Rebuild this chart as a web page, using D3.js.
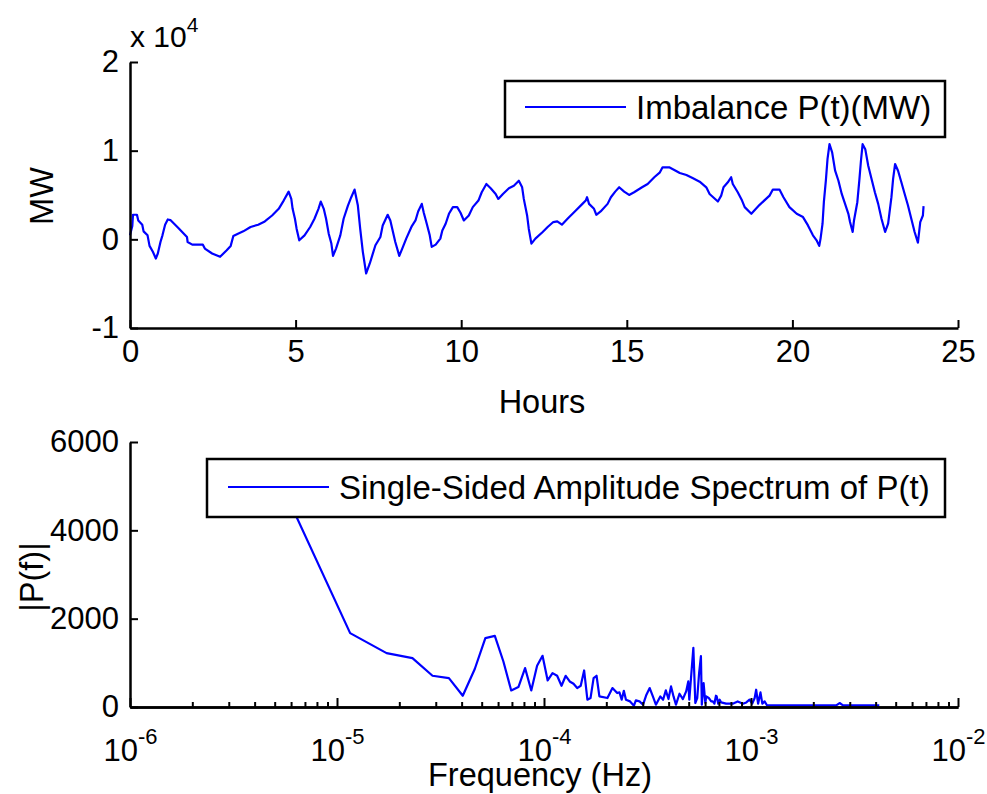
<!DOCTYPE html>
<html>
<head>
<meta charset="utf-8">
<script src="https://cdn.jsdelivr.net/npm/d3@7"></script>
<style>
  body { margin: 0; background: #fff; }
  svg text { font-family: "Liberation Sans", Arial, sans-serif; fill: #000; }
</style>
</head>
<body>
<div id="chart"></div>
<script>
// top panel: imbalance over the day (hours, MW)
const hours = [0, 0.07, 0.09, 0.21, 0.25, 0.37, 0.41, 0.53, 0.59, 0.69, 0.78, 0.84, 0.92, 0.98, 1.06, 1.14, 1.22, 1.46, 1.72, 1.74,
  1.88, 2.2, 2.26, 2.48, 2.72, 2.92, 3.04, 3.12, 3.26, 3.42, 3.64, 3.87, 4.07, 4.29, 4.49, 4.64, 4.79, 4.87, 4.91, 4.98,
  5.03, 5.11, 5.27, 5.44, 5.57, 5.69, 5.76, 5.85, 5.92, 6.0, 6.08, 6.13, 6.22, 6.35, 6.45, 6.58, 6.68, 6.78, 6.88, 6.95,
  7.03, 7.13, 7.24, 7.41, 7.56, 7.63, 7.78, 7.86, 8.01, 8.13, 8.22, 8.34, 8.51, 8.62, 8.7, 8.81, 8.87, 8.96, 9.05, 9.11,
  9.23, 9.37, 9.43, 9.53, 9.63, 9.75, 9.88, 9.98, 10.08, 10.23, 10.35, 10.52, 10.62, 10.76, 10.89, 11.04, 11.12, 11.26, 11.44, 11.59,
  11.74, 11.84, 11.89, 11.99, 12.04, 12.12, 12.24, 12.46, 12.61, 12.78, 12.9, 13.04, 13.21, 13.46, 13.66, 13.76, 13.8, 13.86, 14.01, 14.08,
  14.21, 14.42, 14.52, 14.65, 14.77, 14.92, 15.07, 15.22, 15.46, 15.63, 15.83, 16.0, 16.08, 16.28, 16.42, 16.6, 16.8, 17.0, 17.2, 17.4,
  17.5, 17.75, 17.85, 17.92, 18.05, 18.15, 18.2, 18.35, 18.48, 18.56, 18.76, 19.01, 19.31, 19.41, 19.61, 19.73, 19.91, 20.13, 20.32, 20.47,
  20.62, 20.73, 20.81, 20.85, 20.91, 20.95, 21.01, 21.06, 21.12, 21.2, 21.29, 21.39, 21.49, 21.59, 21.69, 21.74, 21.82, 21.86, 21.96, 22.02,
  22.07, 22.12, 22.2, 22.29, 22.39, 22.49, 22.59, 22.69, 22.8, 22.89, 22.99, 23.04, 23.1, 23.19, 23.29, 23.39, 23.49, 23.59, 23.69, 23.79,
  23.86, 23.94, 23.96]
const imbalance = [450, 1500, 2770, 2770, 2130, 1650, 900, 450, -740, -1400, -2160, -1600, -300, 450, 1650, 2240, 2170, 1280, 270, -300,
  -600, -600, -1040, -1600, -1970, -1230, -740, 380, 640, 900, 1390, 1650, 2020, 2690, 3440, 4370, 5380, 4560, 3440, 2320,
  1200, -110, 450, 1390, 2320, 3440, 4260, 3440, 2320, 640, -480, -1860, -1040, 450, 2320, 3810, 4750, 5610, 3810, 1200,
  -1410, -3850, -2720, -670, 270, 1570, 2770, 2130, -300, -1860, -1040, 80, 1500, 2130, 3140, 4000, 3000, 1760, 450, -850,
  -600, 80, 1000, 1760, 2880, 3630, 3630, 3000, 2130, 2690, 3630, 4370, 5310, 6240, 5760, 5120, 4560, 5120, 5760, 6050,
  6610, 5870, 4560, 2690, 1200, -480, 80, 830, 1390, 1950, 2020, 1650, 2320, 3250, 4000, 4370, 4750, 4000, 3440, 2770,
  3140, 4000, 4750, 5380, 5870, 5380, 5010, 5310, 5870, 6240, 7000, 7560, 8120, 8120, 7850, 7480, 7250, 6880, 6500, 5870,
  5120, 4260, 4930, 5870, 6430, 7000, 6240, 5310, 4370, 3630, 2880, 3890, 4930, 5610, 5610, 4750, 3630, 2880, 2510, 1570,
  450, -110, -740, 80, 1760, 4190, 6610, 9050, 10730, 9800, 7740, 6610, 5120, 4000, 2880, 1950, 830, 2130, 4190, 6610,
  8860, 10730, 10170, 8300, 6800, 5310, 4000, 2320, 830, 1760, 4750, 6800, 8490, 7740, 6430, 5120, 3810, 2320, 830, -370,
  1950, 2690, 3740]
const hourTicks = [0, 5, 10, 15, 20, 25]
const mwTicks = [-10000, 0, 10000, 20000]

// bottom panel: single-sided amplitude spectrum, frequency bin k (bin width df) and |P(f)|
const df = 1 / (48 * 3600)
const bins = [1, 2, 3, 4, 5, 6, 7, 8, 9, 10, 11, 12, 13, 14, 15, 16, 17, 18, 19, 20,
  21, 22, 23, 24, 25, 26, 27, 28, 29, 30, 31, 32, 35, 37, 39, 40, 41, 42, 43, 45,
  47, 48, 50, 52, 54, 56, 58, 60, 63, 65, 67, 69, 71, 73, 75, 78, 81, 84, 86, 87,
  91, 93, 95, 97, 99, 100, 102, 104, 105, 108, 109, 111, 113, 115, 117, 118, 120, 122, 124, 131,
  141, 149, 158, 164, 170, 175, 180, 183, 187, 192, 196, 201, 206, 238, 344, 446, 463, 481, 720]
const amplitude = [4730, 1672, 1220, 1107, 707, 655, 255, 860, 1560, 1610, 1030, 375, 452, 880, 375, 933, 1159, 601, 768, 707,
  481, 707, 578, 526, 429, 481, 827, 165, 203, 655, 707, 240, 203, 429, 316, 330, 165, 368, 165, 127,
  29, 150, 127, 52, 278, 429, 240, 52, 240, 165, 376, 180, 466, 240, 52, 300, 180, 353, 579, 165,
  1340, 90, 200, 760, 1150, 52, 541, 90, 240, 203, 180, 127, 127, 75, 255, 240, 75, 165, 104, 75,
  75, 127, 75, 104, 165, 75, 203, 391, 75, 330, 75, 127, 45, 36, 36, 36, 90, 36, 36]
const ampTicks = [0, 2000, 4000, 6000]
const decadeTicks = [1e-6, 1e-5, 1e-4, 1e-3, 1e-2]
const decadeExp = ['-6', '-5', '-4', '-3', '-2']

const W = 987
const H = 794
const plotLeft = 130
const plotRight = 958
const blue = '#0000ff'
const fontSize = 31
const labelSize = 32.5

const svg = d3.select('#chart')
  .append('svg')
  .attr('width', W)
  .attr('height', H)

// ---------- top panel ----------
const x1 = d3.scaleLinear().domain([0, 25]).range([plotLeft, plotRight])
const y1 = d3.scaleLinear().domain([-10000, 20000]).range([328, 62])

const topPanel = svg.append('g')

topPanel.append('path')
  .datum(hours.map((h, i) => [h, imbalance[i]]))
  .attr('fill', 'none')
  .attr('stroke', blue)
  .attr('stroke-width', 2.2)
  .attr('stroke-linejoin', 'round')
  .attr('d', d3.line().x((d) => x1(d[0])).y((d) => y1(d[1])))

topPanel.append('g')
  .attr('transform', `translate(0, ${y1(-10000)})`)
  .call(d3.axisBottom(x1).tickValues(hourTicks).tickSizeInner(-8).tickSizeOuter(0).tickPadding(12))

topPanel.append('g')
  .attr('transform', `translate(${plotLeft}, 0)`)
  .call(d3.axisLeft(y1).tickValues(mwTicks).tickFormat((d) => d / 10000).tickSizeInner(-8).tickSizeOuter(0).tickPadding(11))

// exponent label
const expo = topPanel.append('text')
  .attr('x', 130)
  .attr('y', 47)
  .style('font-size', `${fontSize - 1}px`)
expo.append('tspan').text('x 10')
expo.append('tspan').attr('dy', -15).style('font-size', '21px').text('4')

topPanel.append('text')
  .attr('transform', 'translate(53, 196) rotate(-90)')
  .attr('text-anchor', 'middle')
  .style('font-size', `${labelSize}px`)
  .text('MW')

topPanel.append('text')
  .attr('x', 542)
  .attr('y', 413)
  .attr('text-anchor', 'middle')
  .style('font-size', `${labelSize}px`)
  .text('Hours')

// legend
const leg1 = topPanel.append('g')
leg1.append('rect')
  .attr('x', 505).attr('y', 81).attr('width', 440).attr('height', 56)
  .attr('fill', '#fff').attr('stroke', '#000').attr('stroke-width', 2.5)
leg1.append('line')
  .attr('x1', 525).attr('x2', 626).attr('y1', 107).attr('y2', 107)
  .attr('stroke', blue).attr('stroke-width', 2.2)
leg1.append('text')
  .attr('x', 636).attr('y', 119)
  .style('font-size', '33px')
  .text('Imbalance P(t)(MW)')

// ---------- bottom panel ----------
const x2 = d3.scaleLog().domain([1e-6, 1e-2]).range([plotLeft, plotRight])
const y2 = d3.scaleLinear().domain([0, 6000]).range([707, 442])

const bottomPanel = svg.append('g')

bottomPanel.append('path')
  .datum(bins.map((k, i) => [k * df, amplitude[i]]))
  .attr('fill', 'none')
  .attr('stroke', blue)
  .attr('stroke-width', 2.2)
  .attr('stroke-linejoin', 'round')
  .attr('d', d3.line().x((d) => x2(d[0])).y((d) => y2(d[1])))

const minorTicks = []
decadeTicks.slice(0, -1).forEach((p) => {
  for (let m = 2; m <= 9; m++) minorTicks.push(p * m)
})

bottomPanel.append('g')
  .attr('transform', `translate(0, ${y2(0)})`)
  .call(d3.axisBottom(x2).tickValues(minorTicks).tickFormat('').tickSizeInner(-5).tickSizeOuter(0))

const xAxis2 = bottomPanel.append('g')
  .attr('transform', `translate(0, ${y2(0)})`)
  .call(d3.axisBottom(x2).tickValues(decadeTicks).tickFormat('').tickSizeInner(-9).tickSizeOuter(0))

xAxis2.selectAll('.tick')
  .append('text')
  .attr('class', 'dec')
  .attr('y', 54)
  .attr('text-anchor', 'middle')
  .style('font-size', `${fontSize}px`)
  .each(function (d, i) {
    const t = d3.select(this)
    t.append('tspan').text('10')
    t.append('tspan').attr('dy', -17).style('font-size', '22px').text(decadeExp[i])
  })

bottomPanel.append('g')
  .attr('transform', `translate(${plotLeft}, 0)`)
  .call(d3.axisLeft(y2).tickValues(ampTicks).tickFormat(d3.format('d')).tickSizeInner(-8).tickSizeOuter(0).tickPadding(11))

bottomPanel.append('text')
  .attr('transform', 'translate(43, 577) rotate(-90)')
  .attr('text-anchor', 'middle')
  .style('font-size', `${labelSize}px`)
  .text('|P(f)|')

bottomPanel.append('text')
  .attr('x', 540)
  .attr('y', 786)
  .attr('text-anchor', 'middle')
  .style('font-size', `${labelSize}px`)
  .text('Frequency (Hz)')

const leg2 = bottomPanel.append('g')
leg2.append('rect')
  .attr('x', 207).attr('y', 459).attr('width', 738).attr('height', 58)
  .attr('fill', '#fff').attr('stroke', '#000').attr('stroke-width', 2.5)
leg2.append('line')
  .attr('x1', 228).attr('x2', 329).attr('y1', 487).attr('y2', 487)
  .attr('stroke', blue).attr('stroke-width', 2.2)
leg2.append('text')
  .attr('x', 339).attr('y', 499)
  .style('font-size', '33px')
  .text('Single-Sided Amplitude Spectrum of P(t)')

// axis styling, MATLAB-like
svg.selectAll('.domain').attr('stroke', '#000').attr('stroke-width', 2.5)
svg.selectAll('.tick line').attr('stroke', '#000').attr('stroke-width', 2)
svg.selectAll('.tick text')
  .style('font-family', '"Liberation Sans", Arial, sans-serif')
  .attr('fill', '#000')
svg.selectAll('.tick text:not(.dec)').style('font-size', `${fontSize}px`)
</script>
</body>
</html>
